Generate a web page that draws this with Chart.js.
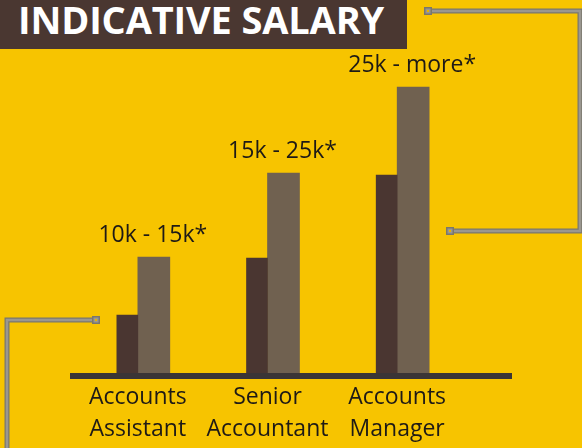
<!DOCTYPE html>
<html>
<head>
<meta charset="utf-8">
<script src="https://cdn.jsdelivr.net/npm/chart.js@4"></script>
<style>
  html, body { margin: 0; padding: 0; background: #F7C400; }
  #wrap { position: relative; width: 582px; height: 448px; overflow: hidden; }
  #titulo {
    position: absolute; left: 0; top: 0; width: 407px; height: 49px;
    background: #4A3731; color: #fff;
    font-family: "Open Sans", sans-serif; font-weight: 700;
    font-size: 38px; line-height: 39px; letter-spacing: -0.15px;
    padding-left: 18px; box-sizing: border-box; white-space: nowrap;
  }
  canvas { position: absolute; left: 0; top: 0; }
</style>
</head>
<body>
<div id="wrap">
  <canvas id="grafico" width="582" height="448"></canvas>
  <div id="titulo">INDICATIVE SALARY</div>
</div>
<script>
const cargos = [["Accounts", "Assistant"], ["Senior", "Accountant"], ["Accounts", "Manager"]];
const faixas = ["10k - 15k*", "15k - 25k*", "25k - more*"];
const minimo = [11.6, 23, 39.6];
const maximo = [23.2, 40, 57.2];

const fonte = "'Open Sans', sans-serif";

// linha de base, rótulos das faixas e conectores decorativos
const extras = {
  id: "extras",
  afterDatasetsDraw(chart) {
    const ctx = chart.ctx;
    const area = chart.chartArea;

    ctx.save();
    ctx.fillStyle = "#3A3536";
    ctx.fillRect(area.left - 3, area.bottom, area.right - area.left + 53, 6);

    const meta = chart.getDatasetMeta(1);
    ctx.fillStyle = "#1E1A16";
    ctx.font = "23px " + fonte;
    ctx.textAlign = "center";
    ctx.textBaseline = "middle";
    meta.data.forEach((bar, i) => {
      ctx.fillText(faixas[i], bar.x - 1, bar.y - 22);
    });

    const linha = (pts) => {
      ctx.lineJoin = "miter";
      ctx.beginPath();
      pts.forEach((p, i) => i ? ctx.lineTo(p[0], p[1]) : ctx.moveTo(p[0], p[1]));
      ctx.strokeStyle = "#7A776C";
      ctx.lineWidth = 5;
      ctx.stroke();
      ctx.strokeStyle = "#9A9790";
      ctx.lineWidth = 2.5;
      ctx.stroke();
    };
    const quadrado = (x, y) => {
      ctx.fillStyle = "#7A776C";
      ctx.fillRect(x, y, 8, 8);
      ctx.fillStyle = "#9A9790";
      ctx.fillRect(x + 1.5, y + 1.5, 5, 5);
      ctx.fillStyle = "#E8B400";
      ctx.fillRect(x + 3, y + 3, 2, 2);
    };
    linha([[431, 11], [580, 11], [580, 231], [454, 231]]);
    quadrado(424, 7);
    quadrado(446, 227);
    linha([[92, 320], [7, 320], [7, 450]]);
    quadrado(92, 316);
    ctx.restore();
  }
};

new Chart(document.getElementById("grafico"), {
  type: "bar",
  data: {
    labels: cargos,
    datasets: [
      { label: "Mínimo", data: minimo, backgroundColor: "#4A3631", barThickness: 21 },
      { label: "Máximo", data: maximo, backgroundColor: "#706150", barThickness: 32 }
    ]
  },
  options: {
    responsive: false,
    animation: false,
    layout: { padding: { left: 73, right: 120, top: 73, bottom: 0 } },
    plugins: { legend: { display: false }, tooltip: { enabled: false } },
    scales: {
      x: {
        grid: { display: false },
        border: { display: false },
        afterFit(scale) { scale.height = 75; },
        ticks: {
          color: "#1E1A16",
          font: { family: fonte, size: 23, lineHeight: 1.4 },
          padding: 0,
          maxRotation: 0,
          autoSkip: false
        }
      },
      y: { display: false, min: 0, max: 60 }
    }
  },
  plugins: [extras]
});
</script>
</body>
</html>
